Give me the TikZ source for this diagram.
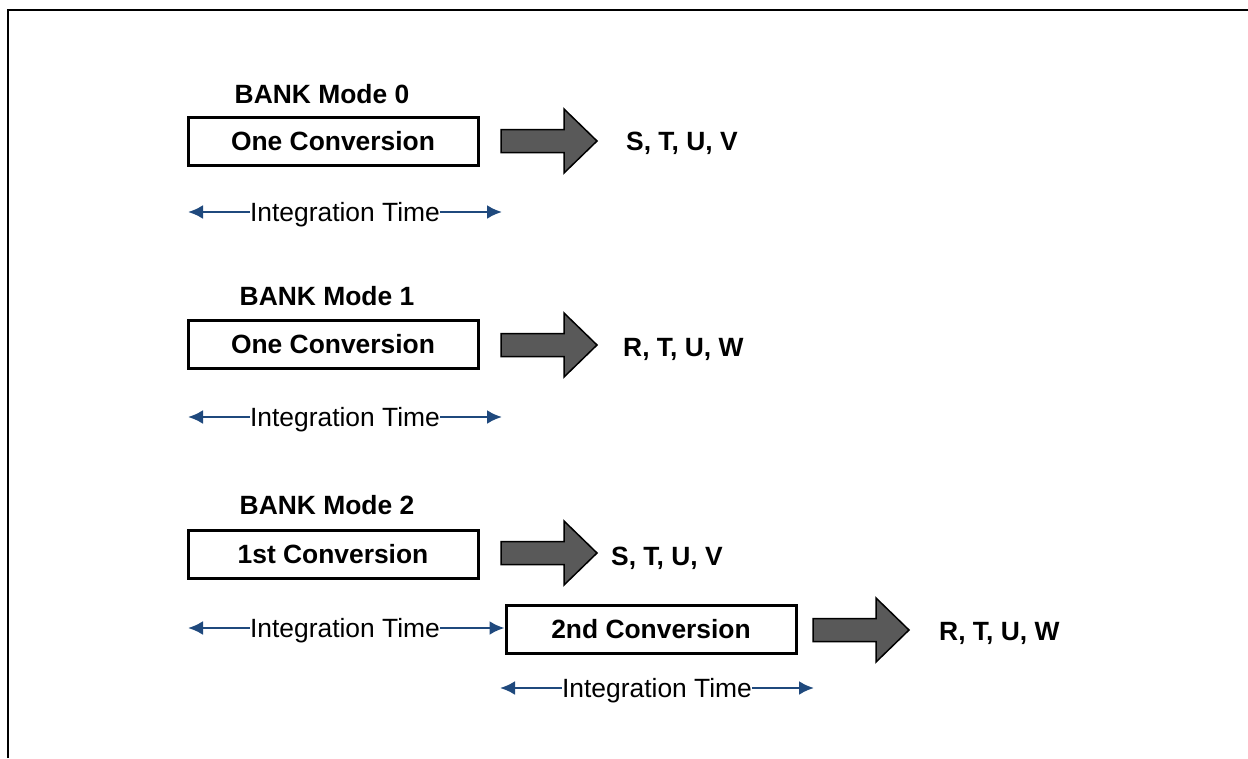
\documentclass[tikz,border=0pt]{standalone}
\usepackage{fontspec}
\setmainfont{Liberation Sans}
\usetikzlibrary{arrows.meta}
\definecolor{itblue}{RGB}{31,73,125}
\definecolor{fatgray}{RGB}{89,89,89}
\newcommand{\bigfont}{\fontsize{26.4}{30}\selectfont}
\tikzset{
  every node/.style={text height=19pt,text depth=0pt},
  convbox/.style={draw,line width=3pt,minimum width=290pt,minimum height=48pt,inner sep=0pt,font=\bigfont\bfseries},
  title/.style={font=\bigfont\bfseries},
  result/.style={font=\bigfont\bfseries,anchor=west,inner sep=0pt},
  itext/.style={inner sep=0pt,font=\bigfont},
  itarrow/.style={itblue,line width=2.5pt,-{Latex[length=15pt,width=14pt]}},
  fat/.style={fill=fatgray,draw=black,line width=1.5pt,line join=miter}
}
\newcommand{\bigarrow}[1]{%
  \filldraw[fat] (#1) ++(0,-11.5) -- ++(63,0) -- ++(0,-20.5) -- ++(33,32)
    -- ++(-33,32) -- ++(0,-20.5) -- ++(-63,0) -- cycle;}
\begin{document}
\begin{tikzpicture}[x=1pt,y=-1pt]
\useasboundingbox (0,0) rectangle (1248,758);
\draw[line width=2pt] (8,758) -- (8,10) -- (1248,10);
% mode 0
\node[title] (t0) at (322,94) {BANK Mode 0};
\node[convbox] (box0) at (333,141) {One Conversion};
\coordinate (a0) at (501,141);
\bigarrow{a0}
\node[result] (r0) at (626,141) {S, T, U, V};
\node[itext] (it0) at (345,212) {Integration Time};
\coordinate (l0) at (188,212);
\coordinate (e0) at (502,212);
\draw[itarrow] (it0.west) -- (l0);
\draw[itarrow] (it0.east) -- (e0);
% mode 1
\node[title] (t1) at (327,296) {BANK Mode 1};
\node[convbox] (box1) at (333,344) {One Conversion};
\coordinate (a1) at (501,345);
\bigarrow{a1}
\node[result] (r1) at (623,347) {R, T, U, W};
\node[itext] (it1) at (345,417) {Integration Time};
\coordinate (l1) at (188,417);
\coordinate (e1) at (502,417);
\draw[itarrow] (it1.west) -- (l1);
\draw[itarrow] (it1.east) -- (e1);
% mode 2
\node[title] (t2) at (327,505) {BANK Mode 2};
\node[convbox] (boxA) at (333,554) {1st Conversion};
\coordinate (a2) at (501,553);
\bigarrow{a2}
\node[result] (r2) at (611,556) {S, T, U, V};
\node[itext] (it2) at (345,628) {Integration Time};
\coordinate (l2) at (188,628);
\draw[itarrow] (it2.west) -- (l2);
\node[convbox] (boxB) at (651,629) {2nd Conversion};
\draw[itarrow] (it2.east) -- (it2.east -| boxB.west);
\coordinate (a3) at (813,630);
\bigarrow{a3}
\node[result] (r3) at (939,631) {R, T, U, W};
\node[itext] (it3) at (657,688) {Integration Time};
\coordinate (l3) at (500,688);
\coordinate (e3) at (814,688);
\draw[itarrow] (it3.west) -- (l3);
\draw[itarrow] (it3.east) -- (e3);
\end{tikzpicture}
\end{document}
